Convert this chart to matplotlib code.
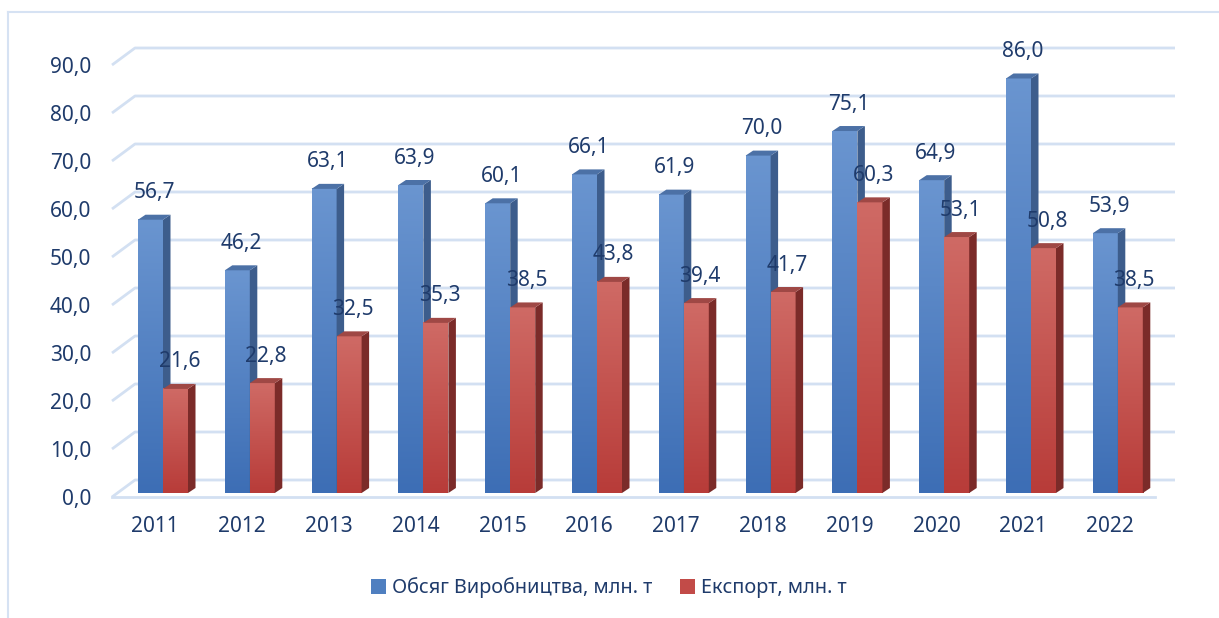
import numpy as np
import matplotlib
matplotlib.use('Agg')
import matplotlib.pyplot as plt
from matplotlib.patches import Polygon, Patch
from matplotlib.colors import LinearSegmentedColormap

plt.rcParams['font.family'] = ['Noto Sans', 'DejaVu Sans']

years = ['2011', '2012', '2013', '2014', '2015', '2016',
         '2017', '2018', '2019', '2020', '2021', '2022']
production = [56.7, 46.2, 63.1, 63.9, 60.1, 66.1, 61.9, 70.0, 75.1, 64.9, 86.0, 53.9]
export = [21.6, 22.8, 32.5, 35.3, 38.5, 43.8, 39.4, 41.7, 60.3, 53.1, 50.8, 38.5]
yticks = [0, 10, 20, 30, 40, 50, 60, 70, 80, 90]
series_names = ['Обсяг Виробництва, млн. т', 'Експорт, млн. т']

W, H = 1219, 618
# pixel layout of the "3d" scene
x0_px, step_px = 163, 86.8      # centre of first category, category step
zero_px, unit_px = 493, 4.82    # y pixel of value 0 on bar fronts, px per unit

def px_x(p):
    return (p - x0_px) / step_px

def px_dy(p):
    return p / unit_px

bar_w = 25 / step_px
depth_dx, depth_dy = 7.5 / step_px, px_dy(5)
wall_front_x, wall_back_x = px_x(112), px_x(135)
wall_front_dy, wall_back_dy = px_dy(-4), px_dy(13)
wall_right_x, floor_right_x = px_x(1175), px_x(1155)
wall_scale = 4.8 / unit_px      # gridlines are spaced slightly tighter than bars

text_col = '#1F3B6B'
grid_col = '#D3E0F2'

fig = plt.figure(figsize=(W / 100, H / 100), dpi=100)
ax = fig.add_axes([0, 0, 1, 1])
ax.axis('off')

# back wall gridlines + left wall diagonals
for v in yticks:
    yv = v * wall_scale
    ax.plot([wall_front_x, wall_back_x, wall_right_x],
            [yv + wall_front_dy, yv + wall_back_dy, yv + wall_back_dy],
            color=grid_col, lw=2, zorder=1, solid_capstyle='butt')
    ax.text(px_x(91), yv + wall_front_dy - px_dy(2), f'{v:.1f}'.replace('.', ','),
            ha='right', va='center', fontsize=15, color=text_col)
# floor front edge
ax.plot([wall_front_x, floor_right_x], [wall_front_dy, wall_front_dy],
        color=grid_col, lw=2, zorder=1)

styles = [
    dict(top_grad='#6A95D0', bot_grad='#3D6EB5', side='#3D5D8C', cap='#4C71A6'),
    dict(top_grad='#CF6A65', bot_grad='#B83C39', side='#7B2B29', cap='#9F4845'),
]

z = 2
gradient = np.linspace(1, 0, 100).reshape(-1, 1)
for i in range(len(years)):
    for k, vals in enumerate([production, export]):
        v = vals[i]
        st = styles[k]
        xl = i - bar_w + k * bar_w
        xr = xl + bar_w
        cmap = LinearSegmentedColormap.from_list('g', [st['bot_grad'], st['top_grad']])
        ax.imshow(gradient, cmap=cmap, vmin=0, vmax=1, aspect='auto',
                  extent=[xl, xr, 0, v], origin='upper',
                  interpolation='bilinear', zorder=z)
        side = Polygon([(xr, 0), (xr + depth_dx, depth_dy),
                        (xr + depth_dx, v + depth_dy), (xr, v)],
                       closed=True, facecolor=st['side'], edgecolor='none', zorder=z)
        cap = Polygon([(xl, v), (xr, v), (xr + depth_dx, v + depth_dy),
                       (xl + depth_dx, v + depth_dy)],
                      closed=True, facecolor=st['cap'], edgecolor='none', zorder=z)
        ax.add_patch(side)
        ax.add_patch(cap)
        z += 1
        ax.text((xl + xr) / 2 + depth_dx / 2, v + depth_dy + px_dy(22),
                f'{v:.1f}'.replace('.', ','), ha='center', va='center',
                fontsize=15, color=text_col, zorder=100)
    ax.text(i - 0.09, px_dy(-34), years[i], ha='center', va='center',
            fontsize=15, color=text_col)

ax.set_xlim(px_x(0), px_x(W))
ax.set_ylim(px_dy(zero_px - H), px_dy(zero_px))

# chart frame (top and left edges visible)
ax.plot([8 / W, 1], [1 - 12 / H, 1 - 12 / H], transform=ax.transAxes,
        color='#D6E2F3', lw=1.5)
ax.plot([8 / W, 8 / W], [0, 1 - 12 / H], transform=ax.transAxes,
        color='#D6E2F3', lw=1.5)

handles = [Patch(facecolor='#4F7FC0', edgecolor='none'),
           Patch(facecolor='#C24B48', edgecolor='none')]
fig.legend(handles, series_names, loc='center', bbox_to_anchor=(0.4995, 1 - 588 / H),
           ncol=2, frameon=False, fontsize=14.3, labelcolor=text_col,
           handlelength=0.75, handleheight=0.75, handletextpad=0.3,
           columnspacing=1.4)

fig.savefig('out.png', dpi=100)
